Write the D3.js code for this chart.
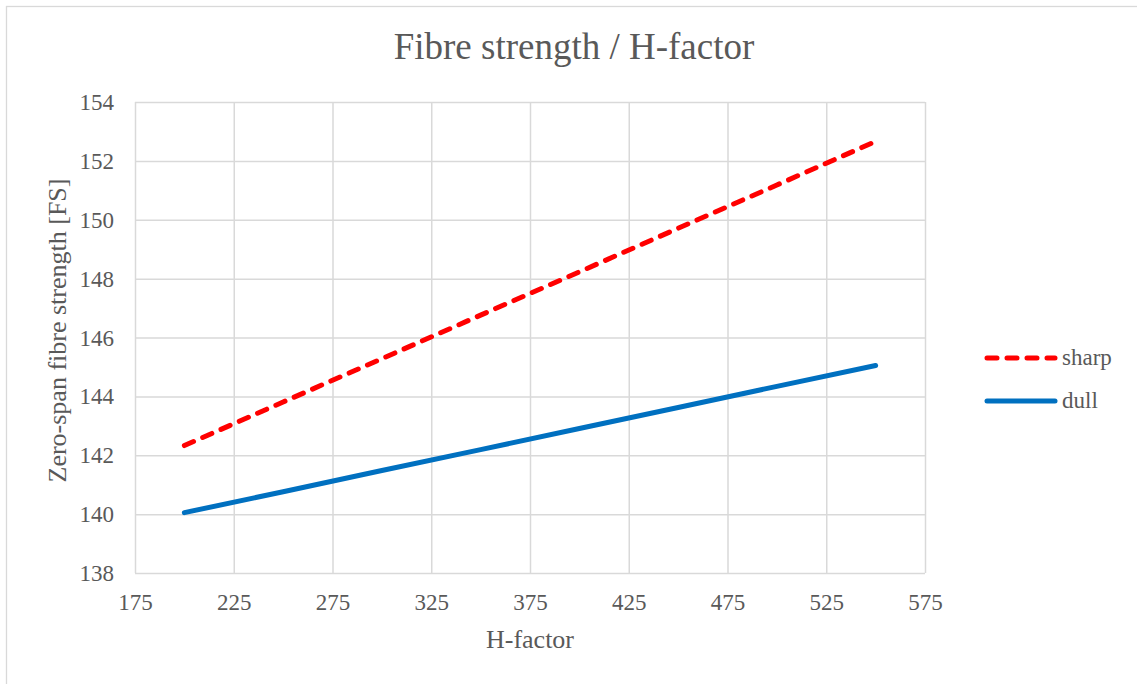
<!DOCTYPE html>
<html>
<head>
<meta charset="utf-8">
<script src="https://cdn.jsdelivr.net/npm/d3@7"></script>
<style>
  body { margin: 0; background: #fff; }
  svg { display: block; font-family: "Liberation Serif", "Times New Roman", serif; }
</style>
</head>
<body>
<svg id="chart" width="1137" height="684"></svg>
<script>
// data
const hFactor = [200, 250, 300, 350, 400, 450, 500, 550];
const sharpFS = [142.33, 143.81, 145.28, 146.76, 148.23, 149.71, 151.18, 152.66];
const dullFS = [140.05, 140.76, 141.48, 142.19, 142.91, 143.62, 144.34, 145.05];
const xTicks = [175, 225, 275, 325, 375, 425, 475, 525, 575];
const yTicks = [138, 140, 142, 144, 146, 148, 150, 152, 154];
const seriesNames = ["sharp", "dull"];

const SVG = d3.select("#chart");
const PLOT = {left: 135, right: 925, top: 102, bottom: 573};
const GRID_COR = "#d9d9d9";
const TEXT_COR = "#595959";
const FONT = "'Liberation Serif', 'Times New Roman', serif";
const LINE_WID = 5;
const TICK_SIZE = 23;

const X_SCALE = d3.scaleLinear().domain([175, 575]).range([PLOT.left, PLOT.right]);
const Y_SCALE = d3.scaleLinear().domain([138, 154]).range([PLOT.bottom, PLOT.top]);

// outer border (right and bottom edges fall outside the picture)
SVG.append("rect")
    .attr("x", 6.5).attr("y", 6.5)
    .attr("width", 1200).attr("height", 800)
    .attr("fill", "#fff")
    .attr("stroke", GRID_COR)
    .attr("stroke-width", 1.3);

// title
SVG.append("text")
    .text("Fibre strength / H-factor")
    .attr("x", 574)
    .attr("y", 59)
    .attr("text-anchor", "middle")
    .attr("font-size", 37)
    .attr("fill", TEXT_COR);

// grid via axes
const yGrid = SVG.append("g")
    .attr("transform", `translate(${PLOT.left},0)`)
    .call(d3.axisLeft(Y_SCALE).tickValues(yTicks).tickSize(-(PLOT.right - PLOT.left)).tickFormat(d3.format("d")).tickPadding(21));
const xGrid = SVG.append("g")
    .attr("transform", `translate(0,${PLOT.bottom})`)
    .call(d3.axisBottom(X_SCALE).tickValues(xTicks).tickSize(-(PLOT.bottom - PLOT.top)).tickFormat(d3.format("d")).tickPadding(21));

for (let ax of [xGrid, yGrid]) {
    ax.select(".domain").remove();
    ax.selectAll(".tick line").attr("stroke", GRID_COR).attr("stroke-width", 1.5);
    ax.selectAll(".tick text")
        .attr("font-size", TICK_SIZE)
        .attr("fill", TEXT_COR)
        .attr("font-family", FONT);
}
yGrid.selectAll(".tick text").attr("dy", "0.33em");
xGrid.selectAll(".tick text").attr("dy", "0.71em");

// axis titles
SVG.append("text")
    .text("H-factor")
    .attr("x", (PLOT.left + PLOT.right) / 2)
    .attr("y", 648)
    .attr("text-anchor", "middle")
    .attr("font-size", 26)
    .attr("fill", TEXT_COR);

SVG.append("text")
    .text("Zero-span fibre strength [FS]")
    .attr("transform", `translate(66,${(PLOT.top + PLOT.bottom) / 2 - 7}) rotate(-90)`)
    .attr("text-anchor", "middle")
    .attr("font-size", 26)
    .attr("fill", TEXT_COR);

// lines
const line = d3.line().x(d => X_SCALE(d[0])).y(d => Y_SCALE(d[1]));
const series = [
    {name: seriesNames[0], values: sharpFS, color: "#ff0000", dash: "10,10"},
    {name: seriesNames[1], values: dullFS, color: "#0070c0", dash: null}
];
for (let s of series) {
    SVG.append("path")
        .datum(hFactor.map((h, i) => [h, s.values[i]]))
        .attr("d", line)
        .attr("fill", "none")
        .attr("stroke", s.color)
        .attr("stroke-width", LINE_WID)
        .attr("stroke-linecap", "round")
        .attr("stroke-linejoin", "round")
        .attr("stroke-dasharray", s.dash);
}

// legend
const legend = SVG.append("g").attr("transform", "translate(987,358)");
series.forEach((s, i) => {
    let gy = i * 43;
    legend.append("line")
        .attr("x1", 0).attr("x2", 68)
        .attr("y1", gy).attr("y2", gy)
        .attr("stroke", s.color)
        .attr("stroke-width", LINE_WID)
        .attr("stroke-linecap", "round")
        .attr("stroke-dasharray", s.dash);
    legend.append("text")
        .text(s.name)
        .attr("x", 75)
        .attr("y", gy + 7)
        .attr("font-size", 23)
        .attr("fill", TEXT_COR);
});
</script>
</body>
</html>
